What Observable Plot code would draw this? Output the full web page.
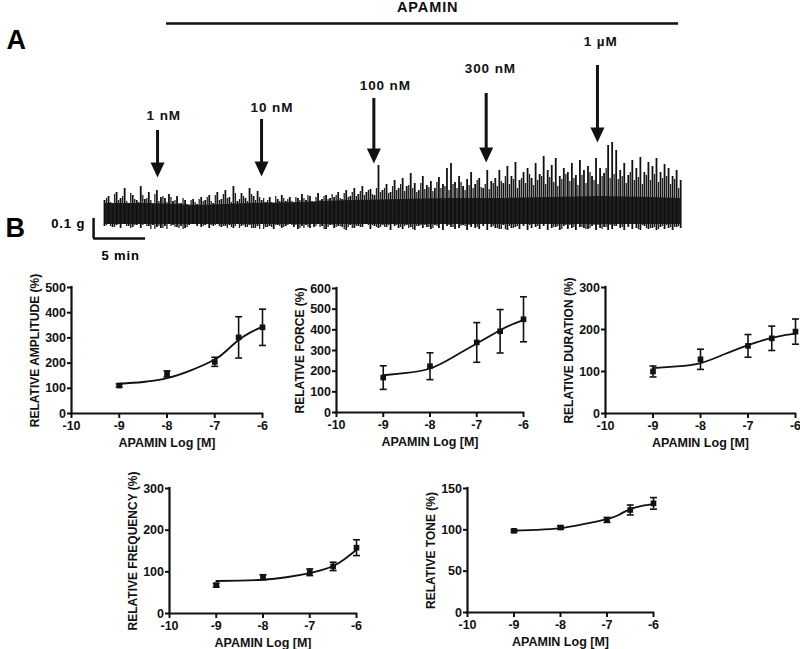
<!DOCTYPE html>
<html>
<head>
<meta charset="utf-8">
<script src="https://cdn.jsdelivr.net/npm/d3@7"></script>
<script src="https://cdn.jsdelivr.net/npm/@observablehq/plot@0.6"></script>
<style>
  html, body { margin: 0; padding: 0; background: #fff; }
  #fig { position: relative; width: 800px; height: 649px; overflow: hidden; background: #fff;
         font-family: "Liberation Sans", Arial, sans-serif; font-weight: bold; }
  #fig svg { position: absolute; max-width: none; }
  #fig svg.panela text { letter-spacing: 0.9px; }
</style>
</head>
<body>
<div id="fig"></div>
<script>
// ---------- Panel A: force trace (grams above baseline, sampled spikes) ----------
const traceTop = [
  0.14,0.16,0.115,0.18,0.15,0.2,0.125,0.165,0.14,0.21,0.145,0.18,0.12,0.19,0.155,
  0.15,0.17,0.135,0.16,0.125,0.14,0.11,0.145,0.12,0.155,
  0.14,0.165,0.125,0.18,0.145,0.19,0.155,0.21,0.135,0.175,0.15,0.2,0.16,0.185,0.14,
  0.13,0.155,0.12,0.145,0.165,0.135,0.155,0.125,0.15,0.17,0.14,0.16,0.13,0.175,0.145,0.165,0.15,
  0.155,0.18,0.145,0.19,0.16,0.2,0.17,0.21,0.18,0.195,0.165,
  0.315,
  0.19,0.22,0.18,0.24,0.2,0.25,0.21,0.275,0.225,0.19,0.26,0.215,0.235,0.2,0.255,0.22,0.3,0.325,
  0.23,0.26,0.21,0.245,0.28,0.22,0.25,0.2,0.29,0.235,
  0.25,0.29,0.225,0.31,0.26,0.33,0.24,0.28,0.3,0.25,0.325,0.27,0.36,0.29,0.315,0.35,0.26,0.3,
  0.28,0.325,0.265,0.34,0.29,0.31,0.26,0.35,0.3,0.275,0.415,0.43,
  0.39,0.29,0.325,0.265,0.34,0.3,0.355,0.28,0.33,0.31,0.35,0.28,0.32,0.3,0.26,0.29,0.24
];
// smaller contractions between the main spikes
const traceMid = [
  0.15,0.13,0.17,0.14,0.16,0.135,0.175,0.145,0.13,0.165,0.15,0.14,0.17,0.135,0.16,
  0.13,0.155,0.14,0.125,0.15,0.12,0.14,0.13,0.145,0.135,
  0.155,0.135,0.165,0.14,0.17,0.15,0.13,0.175,0.145,0.16,0.135,0.17,0.14,0.155,0.15,
  0.14,0.13,0.16,0.135,0.15,0.145,0.135,0.155,0.14,0.15,0.165,0.135,0.155,0.14,0.16,0.145,0.17,
  0.165,0.15,0.175,0.155,0.18,0.16,0.185,0.165,0.19,0.17,0.2,
  0.18,
  0.2,0.175,0.21,0.19,0.22,0.185,0.215,0.2,0.18,0.225,0.195,0.205,0.185,0.23,0.2,0.21,0.19,0.22,
  0.2,0.23,0.19,0.215,0.2,0.24,0.205,0.22,0.195,0.225,
  0.21,0.235,0.26,0.22,0.245,0.2,0.25,0.225,0.27,0.215,0.24,0.26,0.22,0.255,0.23,0.21,0.245,0.27,
  0.235,0.25,0.215,0.265,0.225,0.28,0.24,0.22,0.26,0.3,0.25,0.27,
  0.245,0.26,0.225,0.28,0.24,0.255,0.22,0.265,0.24,0.27,0.23,0.25,0.26,0.22,0.245,0.2
];
const traceBottom = [
  0.01,0.02,0.005,0.015,0.0,0.02,0.01,0.005,0.015,0.0,0.02,0.01,0.015,0.005,0.0,0.01,0.02,0.015,0.005,0.01,0.0,0.015,0.02,0.01,0.005,0.015,0.0,0.01,0.02,0.005,0.01,0.015,0.0,0.02,0.01,0.005,
  0.015,0.0,0.01,0.02,0.005,0.01,-0.005,0.015,0.0,0.01,0.02,0.005,-0.005,0.01,0.015,0.0,0.005,0.02,0.01,-0.005,0.015,0.0,0.01,0.005,-0.01,0.015,0.0,0.01,0.005,0.02,-0.005,0.01,0.0,0.015,0.005,-0.01,
  0.01,0.0,-0.005,0.015,0.005,-0.01,0.01,0.0,0.005,-0.005,0.015,0.0,-0.01,0.01,0.005,-0.005,0.0,0.015,-0.01,0.005,0.0,-0.005,0.01,-0.01,0.005,0.0,-0.005,0.015,-0.01,0.0,0.005,-0.005,0.01,-0.01,0.0,0.005,
  -0.005,0.01,-0.01,0.0,0.005,-0.01,0.01,-0.005,0.0,-0.01,0.005,0.0,-0.005,0.01,-0.01,0.0,0.005,-0.01,-0.005,0.01,0.0,-0.01,0.005,-0.005,0.0,-0.01,0.01,-0.005,0.0,-0.01,0.005,-0.005,0.0,-0.01,0.005,0.0
];
const traceDuration = 55.4;          // minutes of recording shown
const bandTime = [0,4.4,9.2,14,18.8,23.7,28.5,33.3,38.1,42.9,47.7,52.5,55.4];
const bandTop  = [0.125,0.125,0.115,0.125,0.13,0.14,0.145,0.15,0.15,0.155,0.16,0.155,0.15];

const doses      = ["1 nM","10 nM","100 nM","300 nM","1 µM"];
const doseTime   = [5.1, 15.1, 25.9, 36.7, 47.4];
const labelTime  = [5.7, 16.1, 27.0, 37.1, 47.7];
const arrowTip   = [0.255, 0.26, 0.325, 0.33, 0.43];
const arrowTail  = [0.49, 0.545, 0.65, 0.675, 0.815];
const labelLevel = [0.565, 0.605, 0.715, 0.8, 0.935];
const apaminBar  = [5.96, 55.2];
const apaminLevel = 1.025;
const scaleBarG = 0.1, scaleBarMin = 5;

// ---------- Panel B: concentration-response data ----------
const xTicks  = [-10, -9, -8, -7, -6];
const conc    = [-9, -8, -7, -6.5, -6];
const fitConc = [-9, -8.5, -8, -7.5, -7, -6.75, -6.5, -6.25, -6];

const amplitudeMean = [111, 157, 205, 302, 342];
const amplitudeSem  = [6, 12, 18, 82, 72];
const amplitudeFit  = [118, 125, 140, 171, 214, 250, 292, 322, 345];

const forceMean = [169, 224, 339, 393, 451];
const forceSem  = [57, 65, 96, 105, 109];
const forceFit  = [180, 192, 213, 269, 334, 366, 398, 426, 447];

const durationMean = [100, 129, 161, 179, 195];
const durationSem  = [13, 24, 27, 29, 30];
const durationFit  = [108, 112, 120, 141, 163, 172, 180, 186, 190];

const frequencyMean = [68, 87, 99, 113, 158];
const frequencySem  = [4, 6, 8, 10, 19];
const frequencyFit  = [78, 79, 81, 87, 97, 104, 114, 131, 153];

const toneMean = [98.8, 102.8, 112, 124, 132];
const toneSem  = [1.5, 2, 3, 6, 7];
const toneFit  = [99, 100, 102, 107, 113, 118, 125, 129, 131];

// ---------- drawing ----------
const fig = document.getElementById("fig");
const FONT = "font-family: 'Liberation Sans', Arial, sans-serif; font-weight: bold;";

const arrowHead = { draw(ctx) { ctx.moveTo(0, 0); ctx.lineTo(-7, -15); ctx.lineTo(7, -15); ctx.closePath(); } };
const capSymbol = { draw(ctx) { ctx.moveTo(-3.5, 0); ctx.lineTo(3.5, 0); } };

// Panel A
const n = Math.min(traceTop.length, traceBottom.length);
const step = traceDuration / (n - 1);
const trace = d3.range(n).map(i => ({ t: i * step, lo: traceBottom[i], hi: traceTop[i] }));
const mids = traceMid.map((hi, i) => ({ t: (i + 0.5) * step, lo: traceBottom[(i * 7) % n] + 0.005, hi }));
const band = bandTime.map((t, i) => ({ t, hi: bandTop[i] }));
const arrows = doses.map((label, i) => ({ label, t: doseTime[i], lt: labelTime[i], tip: arrowTip[i], tail: arrowTail[i], ly: labelLevel[i] }));

const sbT = -1.05, sbG = -0.05;
const panelA = Plot.plot({
  width: 800, height: 270, margin: 0, className: "panela",
  x: { domain: [-10, 66.923], range: [0, 800] },
  y: { domain: [-0.21, 1.14], range: [270, 0] },
  axis: null,
  style: "background: transparent; overflow: visible; " + FONT,
  marks: [
    Plot.areaY(band, { x: "t", y1: 0.02, y2: "hi", fill: "#1c1c1c" }),
    Plot.ruleX(mids, { x: "t", y1: "lo", y2: "hi", stroke: "#222", strokeWidth: 1.3 }),
    Plot.ruleX(trace, { x: "t", y1: "lo", y2: "hi", stroke: "#111", strokeWidth: 1.8 }),
    Plot.ruleX(arrows, { x: "t", y1: d => d.tip + 0.04, y2: "tail", strokeWidth: 3, stroke: "#111" }),
    Plot.dot(arrows, { x: "t", y: "tip", symbol: arrowHead, fill: "#111", stroke: "none" }),
    Plot.text(arrows, { x: "lt", y: "ly", text: "label", fontSize: 13.5, fontWeight: "bold", fill: "#111" }),
    Plot.ruleY([apaminLevel], { x1: apaminBar[0], x2: apaminBar[1], strokeWidth: 2.5, stroke: "#111" }),
    Plot.text(["APAMIN"], { x: (apaminBar[0] + apaminBar[1]) / 2 + 0.5, y: 1.105, fontSize: 14.5, fontWeight: "bold", fill: "#111" }),
    Plot.ruleX([sbT], { y1: sbG, y2: sbG + scaleBarG, strokeWidth: 2.5, stroke: "#111" }),
    Plot.ruleY([sbG], { x1: sbT, x2: sbT + scaleBarMin, strokeWidth: 2.5, stroke: "#111" }),
    Plot.text([scaleBarG + " g"], { x: sbT - 0.8, y: sbG + scaleBarG * 0.75, textAnchor: "end", fontSize: 13, fontWeight: "bold" }),
    Plot.text([scaleBarMin + " min"], { x: sbT + scaleBarMin / 2 + 0.1, y: -0.135, fontSize: 13, fontWeight: "bold" }),
    Plot.text(["A"], { frameAnchor: "top-left", dx: 6, dy: 40, textAnchor: "start", lineAnchor: "middle", fontSize: 27, fontWeight: "bold" }),
    Plot.text(["B"], { frameAnchor: "top-left", dx: 5, dy: 228, textAnchor: "start", lineAnchor: "middle", fontSize: 27, fontWeight: "bold" })
  ]
});
panelA.style.left = "0px"; panelA.style.top = "0px";
fig.appendChild(panelA);

// Panel B subplots
function subplot({ left, right, top, bottom, yMax, yTicks, label, mean, sem, fit }) {
  const mL = 72, mR = 14, mT = 10, mB = 46;
  const rows = conc.map((x, i) => ({ x, m: mean[i], lo: mean[i] - sem[i], hi: mean[i] + sem[i] }));
  const fitRows = fitConc.map((x, i) => ({ x, y: fit[i] }));
  const svg = Plot.plot({
    width: right - left + mL + mR, height: bottom - top + mT + mB,
    marginLeft: mL, marginRight: mR, marginTop: mT, marginBottom: mB,
    x: { domain: [-10, -6] },
    y: { domain: [0, yMax] },
    style: "background: transparent; overflow: visible; font-size: 12.5px; color: #111; " + FONT,
    marks: [
      Plot.axisX({ ticks: xTicks, tickSize: 5, tickPadding: 3, strokeWidth: 2, tickFormat: d => String(d), label: null }),
      Plot.axisY({ ticks: yTicks, tickSize: 4, tickPadding: 1.5, strokeWidth: 2, tickFormat: d => String(d), label: null }),
      Plot.ruleX([-10], { strokeWidth: 2.2, stroke: "#111", strokeLinecap: "square" }),
      Plot.ruleY([0], { strokeWidth: 2.2, stroke: "#111", strokeLinecap: "square" }),
      Plot.line(fitRows, { x: "x", y: "y", curve: "natural", strokeWidth: 1.8, stroke: "#111" }),
      Plot.ruleX(rows, { x: "x", y1: "lo", y2: "hi", strokeWidth: 1.6, stroke: "#111" }),
      Plot.dot(rows, { x: "x", y: "lo", symbol: capSymbol, stroke: "#111", strokeWidth: 1.6, fill: "none" }),
      Plot.dot(rows, { x: "x", y: "hi", symbol: capSymbol, stroke: "#111", strokeWidth: 1.6, fill: "none" }),
      Plot.dot(rows, { x: "x", y: "m", symbol: "square", r: 3.2, fill: "#111", stroke: "none" }),
      Plot.text([label], { frameAnchor: "left", rotate: -90, dx: -36, textAnchor: "middle", lineAnchor: "middle", fontSize: 12, fontWeight: "bold", fill: "#111" }),
      Plot.text(["APAMIN Log [M]"], { frameAnchor: "bottom", dy: 29, textAnchor: "middle", lineAnchor: "middle", fontSize: 12.5, fontWeight: "bold", fill: "#111" })
    ]
  });
  svg.style.left = (left - mL) + "px";
  svg.style.top = (top - mT) + "px";
  fig.appendChild(svg);
}

subplot({ left: 71, right: 262, top: 287, bottom: 413, yMax: 500, yTicks: [0,100,200,300,400,500],
  label: "RELATIVE AMPLITUDE (%)", mean: amplitudeMean, sem: amplitudeSem, fit: amplitudeFit });
subplot({ left: 336, right: 523, top: 288, bottom: 412, yMax: 600, yTicks: [0,100,200,300,400,500,600],
  label: "RELATIVE FORCE (%)", mean: forceMean, sem: forceSem, fit: forceFit });
subplot({ left: 605, right: 795, top: 287, bottom: 413, yMax: 300, yTicks: [0,100,200,300],
  label: "RELATIVE DURATION (%)", mean: durationMean, sem: durationSem, fit: durationFit });
subplot({ left: 169, right: 356, top: 488, bottom: 613, yMax: 300, yTicks: [0,100,200,300],
  label: "RELATIVE FREQUENCY (%)", mean: frequencyMean, sem: frequencySem, fit: frequencyFit });
subplot({ left: 467, right: 653, top: 488, bottom: 612, yMax: 150, yTicks: [0,50,100,150],
  label: "RELATIVE TONE (%)", mean: toneMean, sem: toneSem, fit: toneFit });
</script>
</body>
</html>
